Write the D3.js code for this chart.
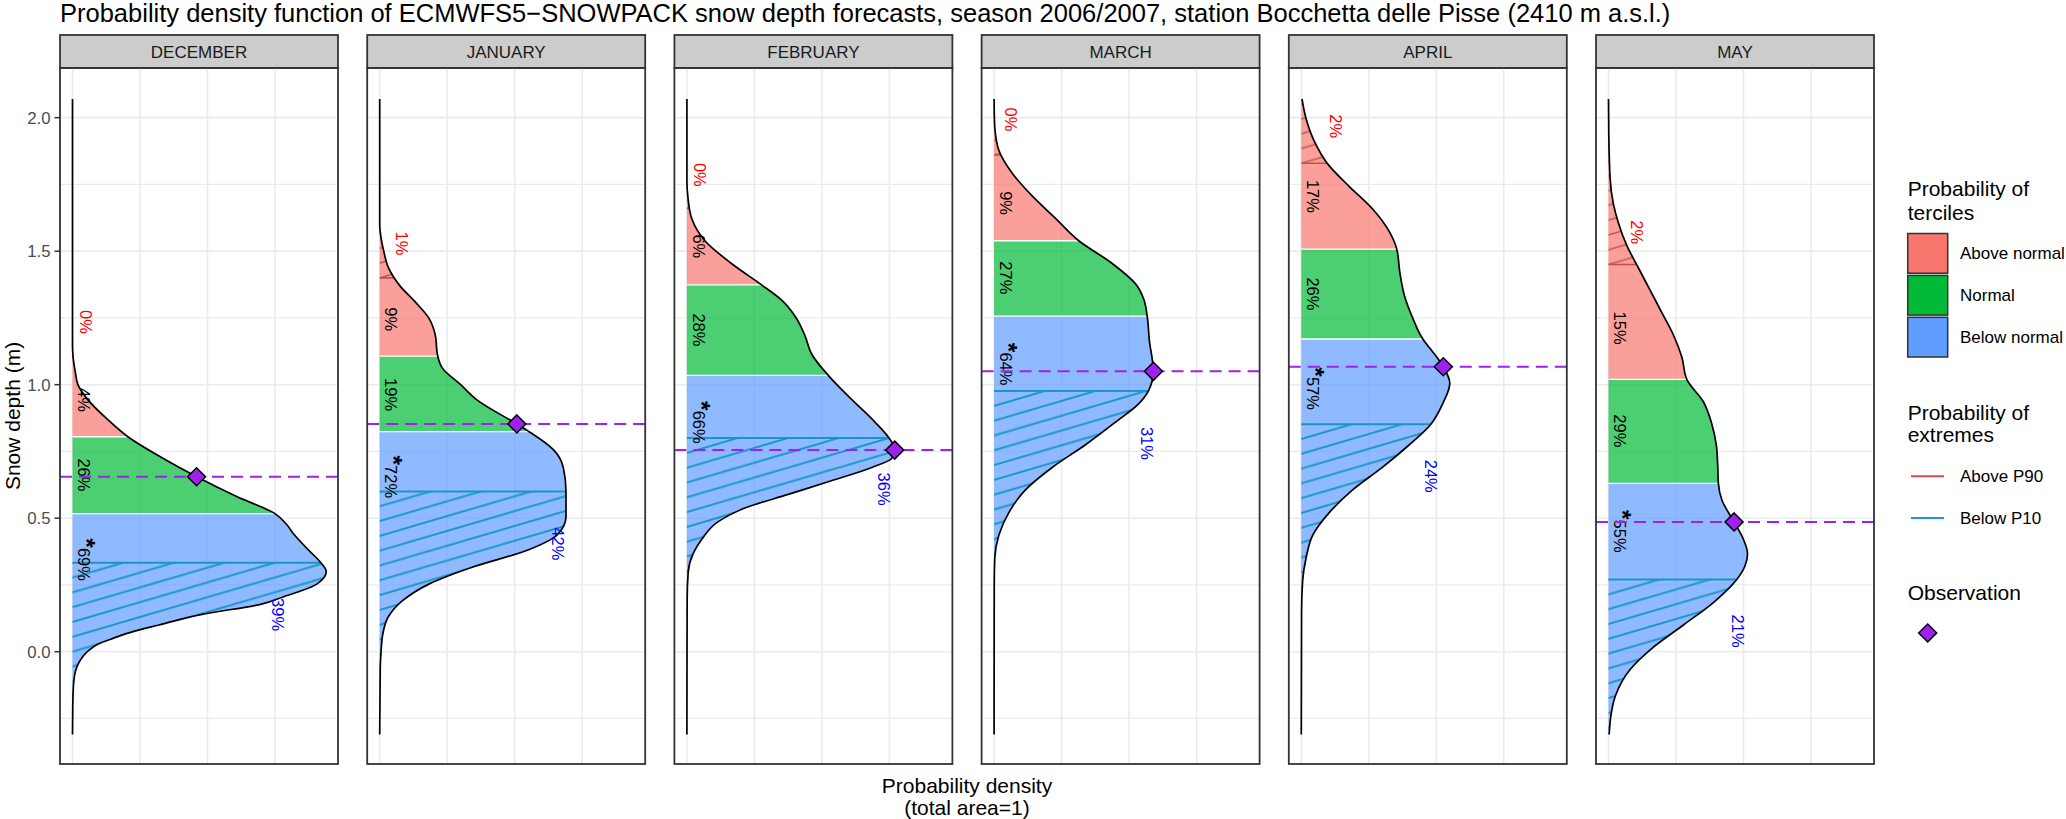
<!DOCTYPE html>
<html><head><meta charset="utf-8">
<script src="https://cdn.jsdelivr.net/npm/d3@7"></script>
<style>
body{margin:0;background:#fff;}
svg{display:block;font-family:"Liberation Sans",Arial,Helvetica,sans-serif;}
</style>
</head><body>
<svg id="chart" width="2066" height="819"></svg>
<script>
// ---------------- DATA ----------------
const months = ["DECEMBER","JANUARY","FEBRUARY","MARCH","APRIL","MAY"];

// [snow depth (m), probability density] from top to bottom
const curveDec = [[2.07,0],[1.15,0],[1.10,0.005],[1.05,0.02],[1.0,0.04],[0.946,0.11],[0.871,0.257],[0.805,0.41],[0.73,0.65],[0.655,0.92],[0.58,1.22],[0.517,1.50],[0.48,1.58],[0.44,1.64],[0.38,1.75],[0.333,1.84],[0.30,1.88],[0.253,1.81],[0.205,1.56],[0.178,1.40],[0.14,0.96],[0.10,0.64],[0.077,0.46],[0.05,0.30],[0.029,0.19],[0.0,0.11],[-0.03,0.06],[-0.06,0.03],[-0.12,0.008],[-0.2,0.002],[-0.31,0]];
const curveJan = [[2.07,0],[1.60,0],[1.55,0.01],[1.50,0.03],[1.44,0.063],[1.37,0.15],[1.31,0.263],[1.25,0.363],[1.19,0.41],[1.107,0.43],[1.063,0.463],[1.0,0.6],[0.943,0.72],[0.853,1.015],[0.824,1.107],[0.755,1.29],[0.69,1.36],[0.60,1.38],[0.505,1.38],[0.44,1.32],[0.38,1.093],[0.317,0.69],[0.253,0.364],[0.19,0.167],[0.13,0.063],[0.066,0.023],[0.0,0.01],[-0.06,0.004],[-0.31,0]];
const curveFeb = [[2.07,0],[1.76,0],[1.70,0.008],[1.623,0.035],[1.539,0.133],[1.454,0.33],[1.374,0.553],[1.318,0.70],[1.25,0.81],[1.183,0.875],[1.115,0.924],[1.035,1.047],[0.945,1.22],[0.86,1.393],[0.80,1.497],[0.76,1.54],[0.724,1.517],[0.69,1.37],[0.64,1.07],[0.589,0.75],[0.538,0.43],[0.487,0.232],[0.42,0.109],[0.368,0.047],[0.30,0.01],[0.2,0.002],[-0.31,0]];
const curveMar = [[2.07,0],[2.0,0.002],[1.963,0.005],[1.878,0.035],[1.793,0.133],[1.708,0.28],[1.623,0.455],[1.539,0.627],[1.454,0.875],[1.37,1.06],[1.318,1.11],[1.257,1.134],[1.166,1.15],[1.05,1.18],[0.98,1.146],[0.928,1.07],[0.86,0.90],[0.775,0.677],[0.69,0.43],[0.606,0.232],[0.521,0.109],[0.436,0.035],[0.35,0.005],[0.25,0.001],[-0.31,0]];
const curveApr = [[2.07,0.005],[1.997,0.035],[1.912,0.096],[1.827,0.195],[1.742,0.356],[1.657,0.53],[1.573,0.652],[1.508,0.707],[1.42,0.73],[1.335,0.763],[1.25,0.825],[1.171,0.90],[1.115,0.986],[1.067,1.052],[1.005,1.10],[0.928,1.047],[0.852,0.96],[0.775,0.80],[0.69,0.60],[0.606,0.38],[0.521,0.207],[0.436,0.084],[0.35,0.035],[0.267,0.01],[0.15,0.002],[-0.31,0]];
const curveMay = [[2.07,0],[1.939,0.002],[1.772,0.012],[1.68,0.035],[1.605,0.074],[1.521,0.136],[1.437,0.222],[1.354,0.308],[1.27,0.395],[1.187,0.48],[1.104,0.543],[1.02,0.58],[0.936,0.703],[0.853,0.765],[0.769,0.80],[0.685,0.81],[0.63,0.814],[0.568,0.84],[0.486,0.93],[0.42,1.0],[0.367,1.03],[0.32,1.01],[0.27,0.95],[0.184,0.777],[0.10,0.555],[0.017,0.333],[-0.067,0.16],[-0.167,0.05],[-0.25,0.015],[-0.31,0.005]];
const curves = [curveDec,curveJan,curveFeb,curveMar,curveApr,curveMay];

const upperTercile = [0.805,1.107,1.374,1.539,1.508,1.02];
const lowerTercile = [0.517,0.824,1.035,1.257,1.171,0.63];
const p90 = [1.10,1.40,1.66,1.86,1.829,1.45];
const p10 = [0.333,0.60,0.80,0.976,0.852,0.27];
const observed = [0.655,0.853,0.755,1.050,1.067,0.486];

const pctAbove  = ["4%","9%","6%","9%","17%","15%"];
const pctNormal = ["26%","19%","28%","27%","26%","29%"];
const pctBelow  = ["69%","72%","66%","64%","57%","55%"];
const mostLikely = [2,2,2,2,2,2];            // 0 above, 1 normal, 2 below -> asterisk
const posAbove  = [0.943,1.245,1.518,1.68,1.705,1.212];
const posNormal = [0.662,0.963,1.205,1.40,1.34,0.827];
const posBelow  = [0.345,0.655,0.859,1.077,0.985,0.451];
const pctP90 = ["0%","1%","0%","0%","2%","2%"];
const posP90 = [[1.235,0.095],[1.529,0.165],[1.786,0.096],[1.993,0.12],[1.968,0.257],[1.571,0.21]];
const pctP10 = ["39%","42%","36%","31%","24%","21%"];
const posP10 = [[0.139,1.52],[0.404,1.32],[0.609,1.455],[0.78,1.134],[0.657,0.96],[0.077,0.957]];

const yMajor = [0,0.5,1.0,1.5,2.0];
const yMinor = [-0.25,0.25,0.75,1.25,1.75];
const xBreaks = [0,0.5,1.0,1.5];
const tercileNames = ["Above normal","Normal","Below normal"];
const extremeNames = ["Above P90","Below P10"];

// ---------------- STYLE / LAYOUT ----------------
const tercileColors = ["#F8766D","#00BA38","#619CFF"];
const stripeBlue = "#1896c8", stripeRed = "#c0504d", obsColor = "#A020F0";
const panelLeft0 = 60, panelPitch = 307.2, panelW = 278;
const stripTop = 35, panelTop = 68, panelBottom = 764;
const labelX = 0.085;

const svg = d3.select("#chart");
const defs = svg.append("defs");
svg.append("rect").attr("width",2066).attr("height",819).attr("fill","#fff");

const y = d3.scaleLinear().domain([-0.4206,2.186]).range([panelBottom,panelTop]);
const xDomain = [-0.0926,1.9667];

function makePattern(id, ox, oy, color, sw){
  const w = 50.5, h = 14.8;
  const p = defs.append("pattern").attr("id",id).attr("patternUnits","userSpaceOnUse")
    .attr("x",ox).attr("y",oy).attr("width",w).attr("height",h);
  [[0,0],[0,h],[0,-h]].forEach(([dx,dy]) => {
    p.append("line").attr("x1",dx).attr("y1",h+dy).attr("x2",w+dx).attr("y2",dy)
      .attr("stroke",color).attr("stroke-width",sw);
  });
}

function xAtY(node, ty){
  const len = node.getTotalLength();
  let best = null, bd = 1e9;
  for(let s=0; s<=len; s+=0.4){
    const p = node.getPointAtLength(s);
    const d = Math.abs(p.y-ty);
    if(d<bd){bd=d; best=p;}
  }
  return best.x;
}

function rotLabel(g, px, py, txt, color, star){
  const t = g.append("text").attr("transform",`translate(${px},${py}) rotate(90)`)
    .attr("text-anchor","middle").attr("dy","0.35em").attr("font-size",16.5).attr("fill",color);
  if(star){ t.append("tspan").text("*").attr("font-size","1.5em").attr("font-weight","bold"); }
  t.append("tspan").text(txt);
}

months.forEach((m,i) => {
  const L = panelLeft0 + i*panelPitch;
  const x = d3.scaleLinear().domain(xDomain).range([L, L+panelW]);
  const g = svg.append("g");
  const data = curves[i];

  // strip
  g.append("rect").attr("x",L).attr("y",stripTop).attr("width",panelW).attr("height",panelTop-stripTop)
    .attr("fill","#cccccc").attr("stroke","#333").attr("stroke-width",1.8);
  g.append("text").attr("x",L+panelW/2).attr("y",57.5).attr("text-anchor","middle")
    .attr("font-size",17).attr("fill","#1a1a1a").text(m);

  // grid
  yMinor.forEach(v => g.append("line").attr("x1",L).attr("x2",L+panelW).attr("y1",y(v)).attr("y2",y(v))
    .attr("stroke","#ebebeb").attr("stroke-width",1.2));
  yMajor.forEach(v => g.append("line").attr("x1",L).attr("x2",L+panelW).attr("y1",y(v)).attr("y2",y(v))
    .attr("stroke","#ebebeb").attr("stroke-width",1.6));
  xBreaks.forEach(v => g.append("line").attr("x1",x(v)).attr("x2",x(v)).attr("y1",panelTop).attr("y2",panelBottom)
    .attr("stroke","#ebebeb").attr("stroke-width",1.6));

  // area clip
  const area = d3.area().curve(d3.curveMonotoneY).y(d=>y(d[0])).x0(x(0)).x1(d=>x(d[1]));
  defs.append("clipPath").attr("id","area"+i).append("path").attr("d",area(data));
  makePattern("stripeB"+i, x(0), y(p10[i]), stripeBlue, 2);
  makePattern("stripeR"+i, x(0), y(p90[i]), stripeRed, 1.4);

  const cg = g.append("g").attr("clip-path",`url(#area${i})`);
  const bands = [[panelTop, y(upperTercile[i])],[y(upperTercile[i]), y(lowerTercile[i])],[y(lowerTercile[i]), panelBottom]];
  bands.forEach((b,k) => cg.append("rect").attr("x",L).attr("width",panelW).attr("y",b[0]).attr("height",b[1]-b[0])
    .attr("fill",tercileColors[k]).attr("fill-opacity",0.7));
  [upperTercile[i], lowerTercile[i]].forEach(v => cg.append("line").attr("x1",L).attr("x2",L+panelW)
    .attr("y1",y(v)).attr("y2",y(v)).attr("stroke","#fff").attr("stroke-width",1.3));
  // below P10 hatch
  cg.append("rect").attr("x",L).attr("width",panelW).attr("y",y(p10[i])).attr("height",panelBottom-y(p10[i]))
    .attr("fill",`url(#stripeB${i})`);
  cg.append("line").attr("x1",L).attr("x2",L+panelW).attr("y1",y(p10[i])).attr("y2",y(p10[i]))
    .attr("stroke",stripeBlue).attr("stroke-width",2);
  // above P90 hatch
  cg.append("rect").attr("x",L).attr("width",panelW).attr("y",panelTop).attr("height",y(p90[i])-panelTop)
    .attr("fill",`url(#stripeR${i})`);
  cg.append("line").attr("x1",L).attr("x2",L+panelW).attr("y1",y(p90[i])).attr("y2",y(p90[i]))
    .attr("stroke",stripeRed).attr("stroke-width",1.6);

  // curve outline
  const line = d3.line().curve(d3.curveMonotoneY).x(d=>x(d[1])).y(d=>y(d[0]));
  const cpath = g.append("path").attr("d",line(data)).attr("fill","none").attr("stroke","#000").attr("stroke-width",1.7);

  // labels
  rotLabel(g, x(labelX), y(posAbove[i]), pctAbove[i], "#000", mostLikely[i]===0);
  rotLabel(g, x(labelX), y(posNormal[i]), pctNormal[i], "#000", mostLikely[i]===1);
  rotLabel(g, x(labelX), y(posBelow[i]), pctBelow[i], "#000", mostLikely[i]===2);
  rotLabel(g, x(posP90[i][1]), y(posP90[i][0]), pctP90[i], "#ff0000", false);
  rotLabel(g, x(posP10[i][1]), y(posP10[i][0]), pctP10[i], "#0000ff", false);

  // observation
  const oy = y(observed[i]);
  g.append("line").attr("x1",L).attr("x2",L+panelW).attr("y1",oy).attr("y2",oy)
    .attr("stroke",obsColor).attr("stroke-width",2).attr("stroke-dasharray","12,7");
  const ox = xAtY(cpath.node(), oy);
  g.append("path").attr("d","M0,-9L9,0L0,9L-9,0Z").attr("transform",`translate(${ox},${oy})`)
    .attr("fill",obsColor).attr("stroke","#000").attr("stroke-width",1.5);

  // border
  g.append("rect").attr("x",L).attr("y",panelTop).attr("width",panelW).attr("height",panelBottom-panelTop)
    .attr("fill","none").attr("stroke","#333").attr("stroke-width",1.8);
});

// y axis
const ax = svg.append("g");
yMajor.forEach(v => {
  ax.append("line").attr("x1",54.5).attr("x2",60).attr("y1",y(v)).attr("y2",y(v)).attr("stroke","#333").attr("stroke-width",1.5);
  ax.append("text").attr("x",50.5).attr("y",y(v)).attr("dy","0.35em").attr("text-anchor","end")
    .attr("font-size",16.8).attr("fill","#4d4d4d").text(d3.format(".1f")(v));
});
ax.append("text").attr("transform",`translate(19.5,${(panelTop+panelBottom)/2}) rotate(-90)`)
  .attr("text-anchor","middle").attr("font-size",21).attr("fill","#000").text("Snow depth (m)");

// x axis title
const xc = (panelLeft0 + panelLeft0 + 5*panelPitch + panelW)/2;
svg.append("text").attr("x",xc).attr("y",793).attr("text-anchor","middle").attr("font-size",21).text("Probability density");
svg.append("text").attr("x",xc).attr("y",815).attr("text-anchor","middle").attr("font-size",21).text("(total area=1)");

// title
svg.append("text").attr("x",60).attr("y",22).attr("font-size",25.5).attr("fill","#000")
  .text("Probability density function of ECMWFS5\u2212SNOWPACK snow depth forecasts, season 2006/2007, station Bocchetta delle Pisse (2410 m a.s.l.)");

// legend
const lg = svg.append("g");
const lx = 1907.7;
lg.append("text").attr("x",lx).attr("y",196.4).attr("font-size",21).text("Probability of");
lg.append("text").attr("x",lx).attr("y",219.6).attr("font-size",21).text("terciles");
tercileNames.forEach((n,k) => {
  const ky = 233.5 + k*41.9;
  lg.append("rect").attr("x",lx).attr("y",ky).attr("width",40).attr("height",39.7)
    .attr("fill",tercileColors[k]).attr("stroke","#333").attr("stroke-width",1.5);
  lg.append("text").attr("x",1960).attr("y",ky+19.85).attr("dy","0.35em").attr("font-size",17).text(n);
});
lg.append("text").attr("x",lx).attr("y",419.6).attr("font-size",21).text("Probability of");
lg.append("text").attr("x",lx).attr("y",442).attr("font-size",21).text("extremes");
[stripeRed, stripeBlue].forEach((c,k) => {
  const ly = 476.3 + k*41.6;
  lg.append("line").attr("x1",1911).attr("x2",1944).attr("y1",ly).attr("y2",ly).attr("stroke",k===0?"#d8514c":"#1a98d2").attr("stroke-width",2);
  lg.append("text").attr("x",1960).attr("y",ly).attr("dy","0.35em").attr("font-size",17).text(extremeNames[k]);
});
lg.append("text").attr("x",lx).attr("y",600.4).attr("font-size",21).text("Observation");
lg.append("path").attr("d","M0,-9L9,0L0,9L-9,0Z").attr("transform","translate(1927.7,633)")
  .attr("fill",obsColor).attr("stroke","#000").attr("stroke-width",1.5);
</script>
</body></html>
